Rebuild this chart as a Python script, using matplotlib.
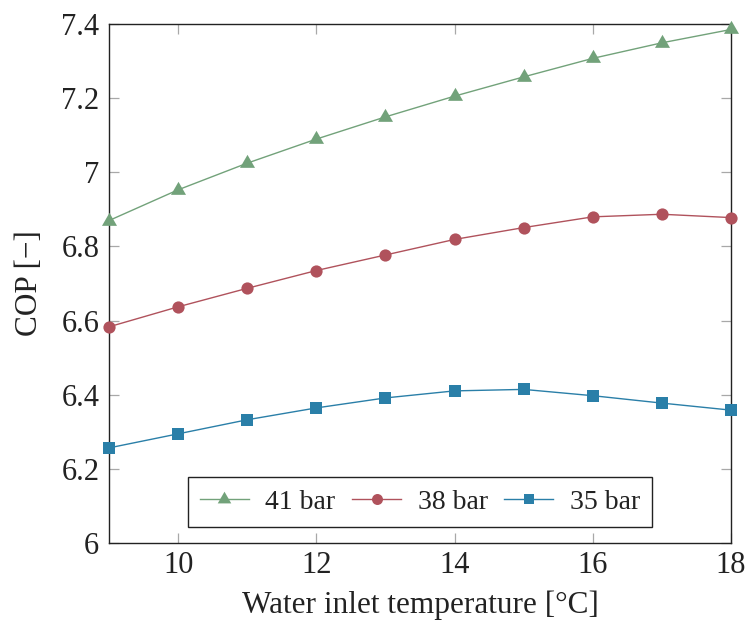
import matplotlib
matplotlib.use("Agg")
import matplotlib.pyplot as plt
from matplotlib.path import Path

# Water inlet temperature [°C]
temperature = [9, 10, 11, 12, 13, 14, 15, 16, 17, 18]

# COP at three discharge pressures
cop_41bar = [6.870, 6.953, 7.025, 7.090, 7.150, 7.206, 7.258, 7.308, 7.350, 7.386]
cop_38bar = [6.583, 6.637, 6.687, 6.735, 6.777, 6.819, 6.851, 6.880, 6.887, 6.878]
cop_35bar = [6.256, 6.294, 6.332, 6.364, 6.391, 6.410, 6.414, 6.397, 6.377, 6.358]

series_labels = ["41 bar", "38 bar", "35 bar"]
x_ticks = [10, 12, 14, 16, 18]
y_ticks = [6.0, 6.2, 6.4, 6.6, 6.8, 7.0, 7.2, 7.4]
y_tick_labels = ["6", "6.2", "6.4", "6.6", "6.8", "7", "7.2", "7.4"]

GREEN = "#72a27a"
RED = "#b0525c"
BLUE = "#2a7fa8"

plt.rcParams["font.family"] = ["Liberation Serif", "DejaVu Serif"]

# equilateral triangle centred on its centroid
tri = Path([(-1.0, -0.5774), (1.0, -0.5774), (0.0, 1.1547), (-1.0, -0.5774)],
           [Path.MOVETO, Path.LINETO, Path.LINETO, Path.CLOSEPOLY])

fig = plt.figure(figsize=(7.46, 6.23), dpi=100)
ax = fig.add_axes([109 / 746, 1 - 542.7 / 623, 622 / 746, 518.4 / 623])

ax.plot(temperature, cop_41bar, color=GREEN, lw=1.0, marker=tri, ms=12.5,
        markeredgewidth=0, label=series_labels[0], clip_on=False, zorder=3)
ax.plot(temperature, cop_38bar, color=RED, lw=1.0, marker="o", ms=8.8,
        markeredgewidth=0, label=series_labels[1], clip_on=False, zorder=3)
ax.plot(temperature, cop_35bar, color=BLUE, lw=1.0, marker="s", ms=8.0,
        markeredgewidth=0, label=series_labels[2], clip_on=False, zorder=3)

ax.set_xlim(9, 18)
ax.set_ylim(6.0, 7.4)
ax.set_xticks(x_ticks)
ax.set_xticklabels([str(t) for t in x_ticks])
ax.set_yticks(y_ticks)
ax.set_yticklabels(y_tick_labels)

ax.tick_params(axis="both", direction="in", length=7.5, width=0.9,
               color="#a8a8a8", labelsize=22, top=True, right=True,
               labelcolor="#222222")
ax.tick_params(axis="x", pad=6)
ax.tick_params(axis="y", pad=7)

for sp in ax.spines.values():
    sp.set_linewidth(1.0)
    sp.set_color("#222222")

ax.set_xlabel("Water inlet temperature [°C]", fontsize=22.5, color="#222222")
ax.set_ylabel("COP [−]", fontsize=22.5, color="#222222")
ax.xaxis.set_label_coords(0.5, -0.092)
ax.yaxis.set_label_coords(-0.104, 0.5)

leg = ax.legend(loc="lower center", bbox_to_anchor=(0.5, 0.03), ncol=3,
                fontsize=20, frameon=True, fancybox=False, borderaxespad=0,
                handlelength=1.75, handletextpad=0.6, columnspacing=0.6,
                borderpad=0.45, framealpha=1)
leg.get_frame().set_edgecolor("#222222")
leg.get_frame().set_linewidth(1.0)
for h in leg.legend_handles:
    h.set_markersize(h.get_markersize() * 0.9)
for t in leg.get_texts():
    t.set_color("#222222")

fig.savefig("out.png", dpi=100)
